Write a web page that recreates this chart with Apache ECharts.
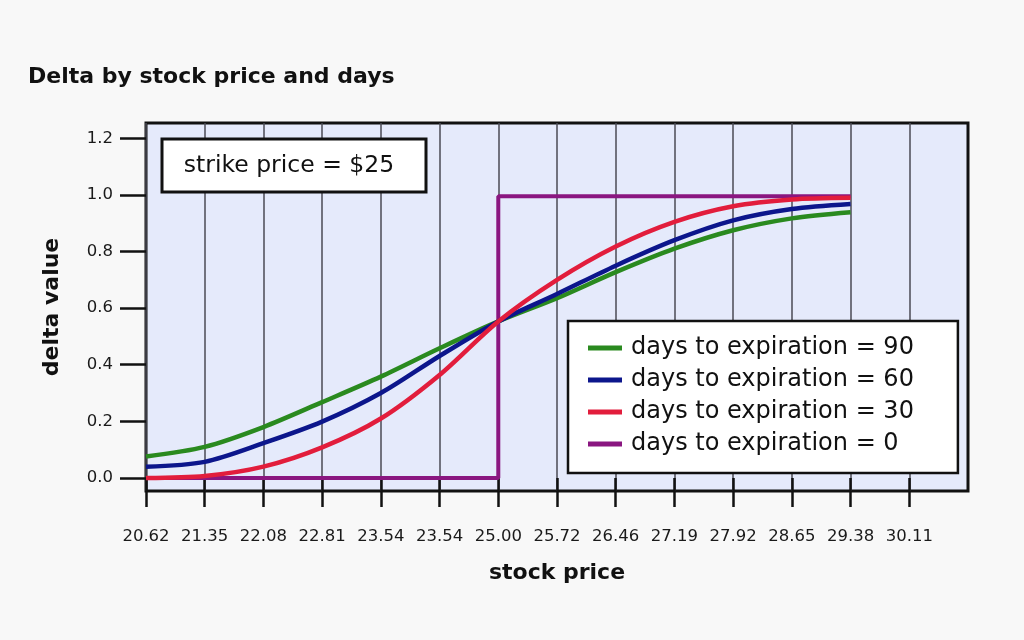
<!DOCTYPE html>
<html>
<head>
<meta charset="utf-8">
<script src="https://cdn.jsdelivr.net/npm/echarts@6/dist/echarts.min.js"></script>
<style>
html,body{margin:0;padding:0;background:#f8f8f8;}
#chart{width:1024px;height:640px;}
</style>
</head>
<body>
<div id="chart"></div>
<script>
// ---- data ----
const xLabels = ['20.62','21.35','22.08','22.81','23.54','23.54','25.00','25.72','26.46','27.19','27.92','28.65','29.38','30.11'];
const priceIdx = [0,1,2,3,4,5,6,7,8,9,10,11,12];
const tickIdx = [0,1,2,3,4,5,6,7,8,9,10,11,12,13];
const days90 = [0.076,0.11,0.18,0.268,0.358,0.458,0.553,0.635,0.727,0.81,0.875,0.917,0.939];
const days60 = [0.04,0.057,0.123,0.199,0.30,0.431,0.553,0.65,0.75,0.84,0.91,0.95,0.968];
const days30 = [0.0,0.007,0.04,0.108,0.21,0.364,0.553,0.70,0.818,0.905,0.96,0.984,0.99];
const days0X = [0,6,6,12];
const days0Y = [0,0,0.995,0.995];
const yTicks = [0,0.2,0.4,0.6,0.8,1.0,1.2];
const seriesNames = ['days to expiration = 90','days to expiration = 60','days to expiration = 30','days to expiration = 0'];
const seriesColors = ['#2a8a1f','#0c168c','#e21d3c','#8a1680'];

const pairs = (xs, ys) => xs.map((x, i) => [x, ys[i]]);
const FONT = '"DejaVu Sans", sans-serif';

const chart = echarts.init(document.getElementById('chart'));
const option = {
  backgroundColor: '#f8f8f8',
  animation: false,
  textStyle: { fontFamily: FONT },
  title: {
    text: 'Delta by stock price and days',
    left: 28, top: 66, padding: 0,
    textStyle: { fontFamily: FONT, fontSize: 22, fontWeight: 700, color: '#111' }
  },
  grid: {
    left: 146, right: 56, top: 123, bottom: 149,
    show: true, backgroundColor: '#e5eafb', borderColor: '#111', borderWidth: 3
  },
  legend: {
    orient: 'vertical',
    left: 568, top: 321,
    data: seriesNames,
    icon: 'rect',
    backgroundColor: '#fff', borderColor: '#111', borderWidth: 2.5, borderRadius: 0,
    padding: [14, 44, 16, 20],
    itemGap: 6, itemWidth: 34, itemHeight: 5,
    textStyle: { fontFamily: FONT, fontSize: 24, color: '#111', lineHeight: 26, padding: [0, 0, 0, 4] }
  },
  xAxis: {
    type: 'value', min: 0, max: 14, interval: 1,
    name: 'stock price', nameLocation: 'middle', nameGap: 71,
    nameTextStyle: { fontFamily: FONT, fontSize: 22, fontWeight: 700, color: '#111' },
    axisLine: { show: false },
    axisTick: { show: true, length: 29, inside: false, customValues: tickIdx,
      lineStyle: { color: '#111', width: 2.5 } },
    axisLabel: { customValues: tickIdx, margin: 37, fontSize: 16.5, color: '#1a1a1a',
      formatter: v => xLabels[Math.round(v)] },
    splitLine: { show: true, lineStyle: { color: '#4a4a55', width: 1.5 } }
  },
  yAxis: {
    type: 'value', min: -0.046, max: 1.254,
    name: 'delta value', nameLocation: 'middle', nameGap: 83,
    nameTextStyle: { fontFamily: FONT, fontSize: 22, fontWeight: 700, color: '#111' },
    axisLine: { show: false },
    axisTick: { show: true, length: 26, customValues: yTicks, lineStyle: { color: '#111', width: 2.5 } },
    axisLabel: { customValues: yTicks, margin: 33, fontSize: 16.5, color: '#1a1a1a',
      formatter: v => v.toFixed(1) },
    splitLine: { show: false }
  },
  series: [
    { name: seriesNames[3], type: 'line', data: pairs(days0X, days0Y), symbol: 'none',
      lineStyle: { color: seriesColors[3], width: 4 }, itemStyle: { color: seriesColors[3] }, z: 2 },
    { name: seriesNames[0], type: 'line', data: pairs(priceIdx, days90), smooth: 0.3, symbol: 'none',
      lineStyle: { color: seriesColors[0], width: 4.5 }, itemStyle: { color: seriesColors[0] }, z: 3 },
    { name: seriesNames[1], type: 'line', data: pairs(priceIdx, days60), smooth: 0.3, symbol: 'none',
      lineStyle: { color: seriesColors[1], width: 4.5 }, itemStyle: { color: seriesColors[1] }, z: 4 },
    { name: seriesNames[2], type: 'line', data: pairs(priceIdx, days30), smooth: 0.3, symbol: 'none',
      lineStyle: { color: seriesColors[2], width: 4.5 }, itemStyle: { color: seriesColors[2] }, z: 5 }
  ],
  graphic: [
    { type: 'rect', shape: { x: 162, y: 139, width: 264, height: 53 },
      style: { fill: '#fff', stroke: '#111', lineWidth: 3 }, z: 100 },
    { type: 'text', x: 289, y: 166, z: 101,
      style: { text: 'strike price = $25', font: '23.5px ' + FONT, fill: '#111', align: 'center', verticalAlign: 'middle' } }
  ]
};
chart.setOption(option);
</script>
</body>
</html>
